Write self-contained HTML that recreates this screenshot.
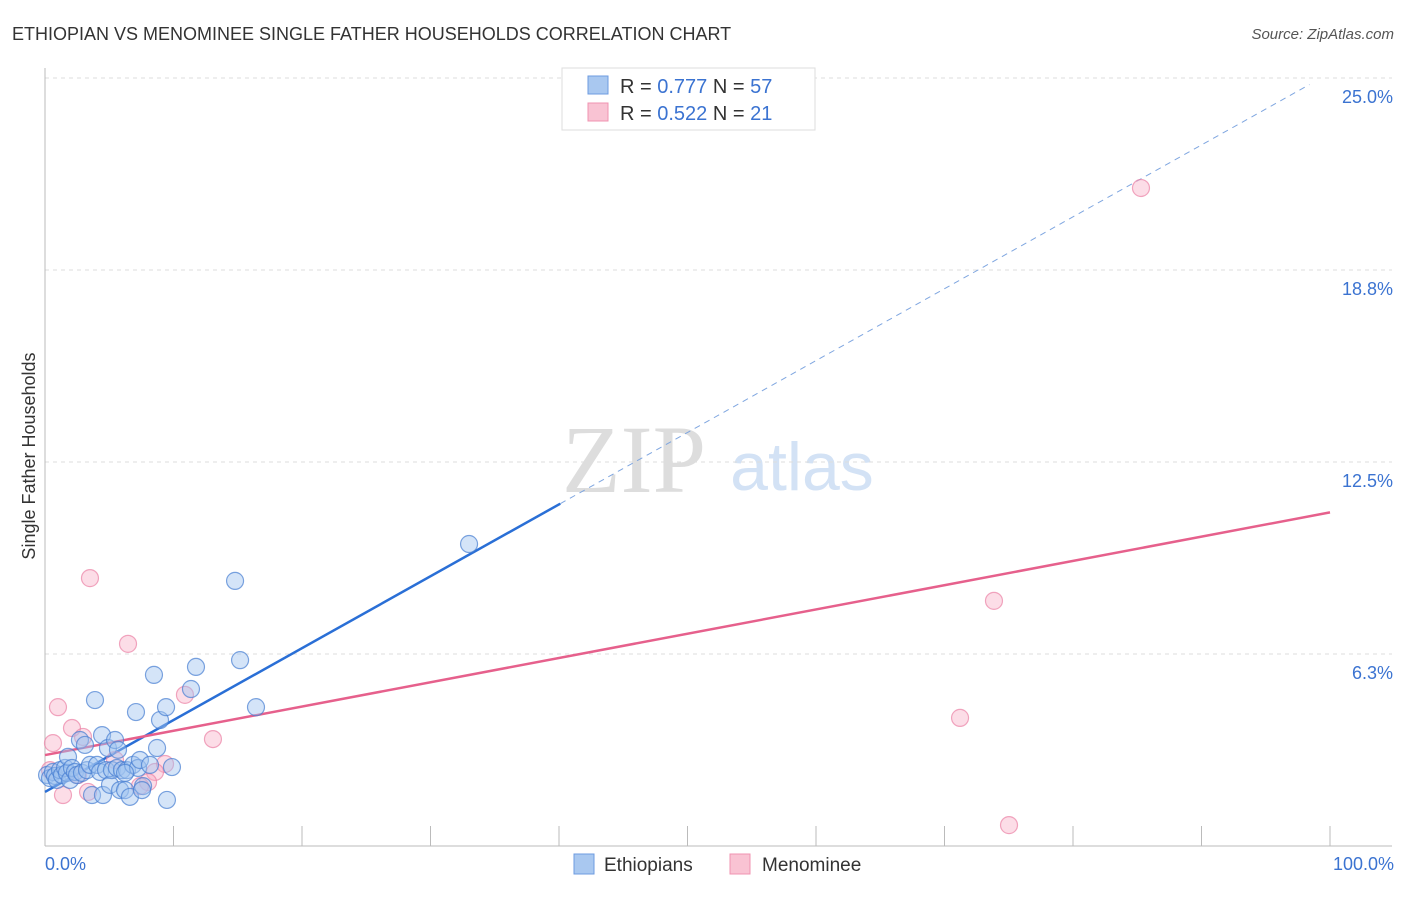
<!DOCTYPE html>
<html><head><meta charset="utf-8"><style>
body{margin:0;background:#fff;font-family:"Liberation Sans",sans-serif}
</style></head><body>
<svg width="1406" height="892" xmlns="http://www.w3.org/2000/svg" style="font-family:'Liberation Sans',sans-serif">
<text x="12" y="40" font-size="18" fill="#333">ETHIOPIAN VS MENOMINEE SINGLE FATHER HOUSEHOLDS CORRELATION CHART</text>
<text x="1394" y="39" font-size="15" fill="#555" text-anchor="end" font-style="italic">Source: ZipAtlas.com</text>
<g>
<text x="634" y="492" font-size="96" fill="#ddd" text-anchor="middle" font-family="Liberation Serif,serif">ZIP</text>
<text x="802" y="490" font-size="68" fill="#d3e2f5" text-anchor="middle">atlas</text>
</g>
<g id="grid"></g>
<g id="axes"></g>
<g id="lines"></g>
<g id="points"></g>
<g>
<rect x="562" y="68" width="253" height="62" fill="#fff" stroke="#ddd"/>
<rect x="588" y="76" width="20" height="18" fill="#a9c8f0" stroke="#6d9be0"/>
<rect x="588" y="103" width="20" height="18" fill="#f9c3d3" stroke="#f093b0"/>
<text x="620" y="93" font-size="20" fill="#333">R = <tspan fill="#3b73d1">0.777</tspan>   N = <tspan fill="#3b73d1">57</tspan></text>
<text x="620" y="120" font-size="20" fill="#333">R = <tspan fill="#3b73d1">0.522</tspan>   N = <tspan fill="#3b73d1"> 21</tspan></text>
</g>
<g>
<rect x="574" y="854" width="20" height="20" fill="#a9c8f0" stroke="#6d9be0"/>
<text x="604" y="871" font-size="19" fill="#333">Ethiopians</text>
<rect x="730" y="854" width="20" height="20" fill="#f9c3d3" stroke="#f093b0"/>
<text x="762" y="871" font-size="19" fill="#333">Menominee</text>
</g>
<text x="35" y="456" font-size="18" fill="#333" text-anchor="middle" transform="rotate(-90 35 456)">Single Father Households</text>
</svg>
<script>
const yTicks=[6.25,12.5,18.75,25];
const yTickLabels=["6.3%","12.5%","18.8%","25.0%"];
const xLabels=["0.0%","100.0%"];
const blueX=[0.16,0.39,0.62,0.78,0.93,1.17,1.32,1.56,1.71,1.79,1.95,2.10,2.33,2.49,2.72,2.88,3.11,3.27,3.50,3.66,3.89,4.05,4.28,4.44,4.51,4.75,4.90,5.06,5.21,5.45,5.60,5.68,5.84,5.99,6.23,6.38,6.61,6.85,7.08,7.24,7.39,7.63,8.17,8.48,8.72,8.95,9.42,9.49,9.88,11.36,11.75,14.79,15.18,16.42,33.0,7.55,6.23];
const blueY=[2.31,2.21,2.41,2.28,2.15,2.47,2.31,2.54,2.38,2.90,2.15,2.54,2.41,2.31,3.45,2.38,3.29,2.47,2.64,1.66,4.75,2.64,2.41,3.61,1.66,2.47,3.19,1.99,2.47,3.45,2.54,3.13,1.82,2.47,1.82,2.47,1.60,2.64,4.36,2.54,2.80,1.95,2.64,5.57,3.19,4.10,4.52,1.50,2.57,5.11,5.83,8.63,6.05,4.52,9.83,1.82,2.38];
const pinkX=[3.50,6.46,1.01,2.10,2.96,0.62,10.89,13.07,9.34,8.56,8.02,7.39,1.40,3.35,2.57,0.39,85.29,73.85,71.21,75.02,5.45];
const pinkY=[8.72,6.58,4.52,3.84,3.55,3.35,4.92,3.48,2.67,2.41,2.08,1.95,1.66,1.76,2.31,2.47,21.42,7.98,4.17,0.68,2.80];
const blueTrend=[1.76,0.234];
const pinkTrend=[2.96,0.079];
const NS="http://www.w3.org/2000/svg";
const X=v=>45+v*12.85, Y=v=>846-v*30.72;
function mk(p,t,a){const e=document.createElementNS(NS,t);for(const k in a)e.setAttribute(k,a[k]);p.appendChild(e);return e;}
const grid=document.getElementById('grid');
yTicks.forEach((t,i)=>{
 const l=mk(grid,'line',{x1:45,x2:1392,y1:Y(t),y2:Y(t),stroke:'#ddd','stroke-dasharray':'4,4'});
 
 
 const tx=mk(grid,'text',{x:1393,y:Y(t)+25,'font-size':18,fill:'#3b73d1','text-anchor':'end'});
 tx.textContent=yTickLabels[i];
 
 
});
const axes=document.getElementById('axes');
const ya=mk(axes,'line',{x1:45,x2:45,y1:68,y2:846,stroke:'#bbb'});


const xa=mk(axes,'line',{x1:45,x2:1392,y1:846,y2:846,stroke:'#bbb'});


for(let i=0;i<=10;i++){const t=mk(axes,'line',{x1:X(i*10),x2:X(i*10),y1:826,y2:846,stroke:'#bbb'});
 
 }
[[0,'start',45],[100,'end',1394]].forEach((d,i)=>{const t=mk(axes,'text',{x:d[2],y:870,'font-size':18,fill:'#3b73d1','text-anchor':d[1]});t.textContent=xLabels[i];
 
 });
const pts=document.getElementById('points');
pinkX.forEach((x,i)=>{const c=mk(pts,'circle',{cx:X(x),cy:Y(pinkY[i]),r:8.5,fill:'rgba(247,170,195,0.4)',stroke:'rgba(235,130,165,0.7)','stroke-width':1.2});
 
 });
blueX.forEach((x,i)=>{const c=mk(pts,'circle',{cx:X(x),cy:Y(blueY[i]),r:8.5,fill:'rgba(160,195,240,0.45)',stroke:'rgba(70,125,210,0.7)','stroke-width':1.2});
 
 });
const ln=document.getElementById('lines');
const b1=mk(ln,'line',{x1:X(0),y1:Y(blueTrend[0]),x2:X(40.1),y2:Y(blueTrend[0]+blueTrend[1]*40.1),stroke:'#2a6fd6','stroke-width':2.5});


const b2=mk(ln,'line',{x1:X(40.1),y1:Y(blueTrend[0]+blueTrend[1]*40.1),x2:X(98.4),y2:Y(blueTrend[0]+blueTrend[1]*98.4),stroke:'#7fa6e0','stroke-width':1,'stroke-dasharray':'6,5'});


const p1=mk(ln,'line',{x1:X(0),y1:Y(pinkTrend[0]),x2:X(100),y2:Y(pinkTrend[0]+pinkTrend[1]*100),stroke:'#e6608c','stroke-width':2.5});


</script>
</body></html>
